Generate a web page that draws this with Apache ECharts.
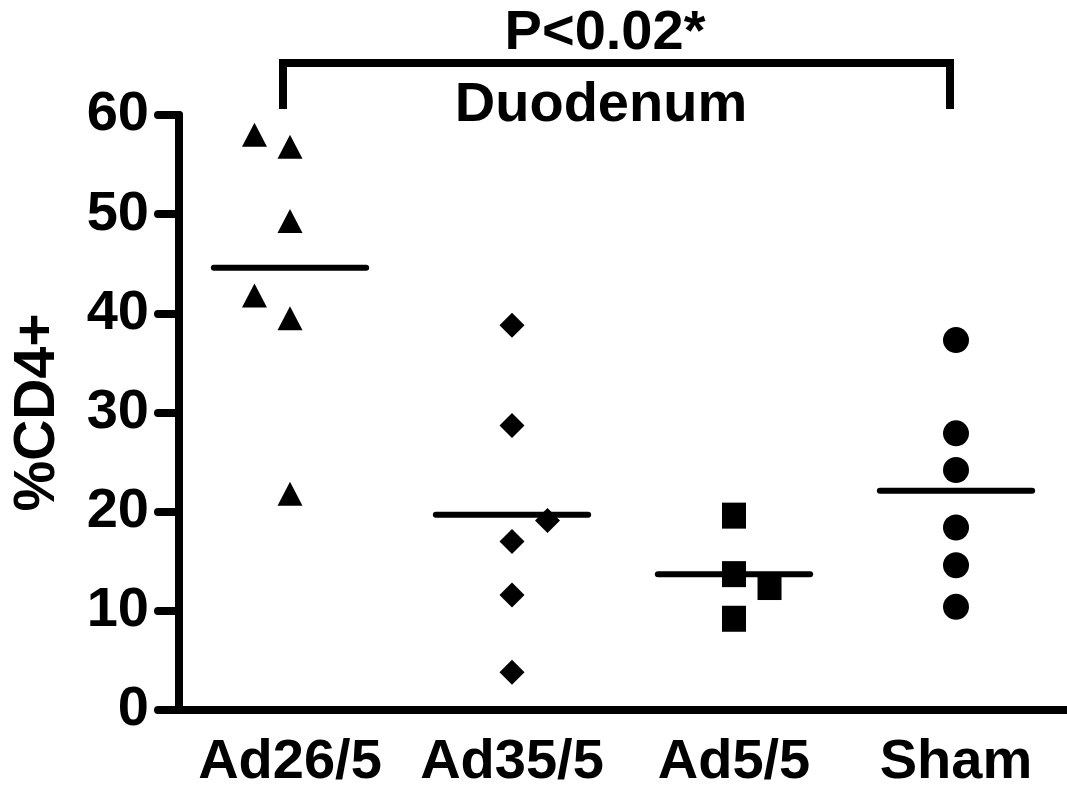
<!DOCTYPE html>
<html>
<head>
<meta charset="utf-8">
<script src="https://cdn.jsdelivr.net/npm/echarts@6/dist/echarts.min.js"></script>
<style>
html,body{margin:0;padding:0;background:#fff;}
#chart{width:1067px;height:791px;}
</style>
</head>
<body>
<div id="chart"></div>
<script>
// ---- data ----
var categories = ['Ad26/5', 'Ad35/5', 'Ad5/5', 'Sham'];
var yTicks = [0, 10, 20, 30, 40, 50, 60];
var ad26Values = [58.0, 56.8, 49.3, 41.8, 39.5, 21.8];
var ad26Offsets = [-0.16, 0, 0, -0.16, 0, 0];
var ad35Values = [38.8, 28.7, 19.1, 17.0, 11.6, 3.8];
var ad35Offsets = [0, 0, 0.16, 0, 0, 0];
var ad5Values = [19.6, 13.7, 12.4, 9.2];
var ad5Offsets = [0, 0, 0.16, 0];
var shamValues = [37.3, 27.9, 24.2, 18.4, 14.6, 10.4];
var shamOffsets = [0, 0, 0, 0, 0, 0];
var groupMeans = [44.6, 19.7, 13.7, 22.1];
var pText = 'P<0.02*';
var subTitle = 'Duodenum';
var yName = '%CD4+';

var FONT = 'Liberation Sans, Arial, sans-serif';

function pts(idx, vals, offs) {
  return vals.map(function (v, i) { return [idx + offs[i], v]; });
}

var chart = echarts.init(document.getElementById('chart'));
var markStyle = { color: '#000', opacity: 1 };
var option = {
  backgroundColor: '#ffffff',
  animation: false,
  grid: { left: 179, top: 115, height: 600, width: 899, containLabel: false },
  xAxis: [
    {
      type: 'category',
      data: categories,
      boundaryGap: true,
      axisLine: { onZero: false, lineStyle: { color: '#000', width: 8 } },
      axisTick: { alignWithLabel: true, length: 22, lineStyle: { color: '#000', width: 8, cap: 'round' } },
      axisLabel: { interval: 0, color: '#000', fontSize: 56, fontWeight: 'bold', fontFamily: FONT, margin: 25 },
      splitLine: { show: false }
    },
    {
      type: 'value',
      min: -0.5,
      max: 3.5,
      show: false
    }
  ],
  yAxis: {
    type: 'value',
    min: yTicks[0],
    max: yTicks[yTicks.length - 1],
    interval: 10,
    name: yName,
    nameLocation: 'middle',
    nameGap: 112,
    nameTextStyle: { color: '#000', fontSize: 57, fontWeight: 'bold', fontFamily: FONT },
    axisLine: { show: true, onZero: false, lineStyle: { color: '#000', width: 8 } },
    axisTick: { show: true, length: 21, lineStyle: { color: '#000', width: 8, cap: 'round' } },
    axisLabel: { color: '#000', fontSize: 56, fontWeight: 'bold', fontFamily: FONT, margin: 30 },
    splitLine: { show: false }
  },
  series: [
    {
      type: 'custom',
      xAxisIndex: 1,
      data: groupMeans.map(function (m, i) { return [i, m]; }),
      renderItem: function (params, api) {
        var i = api.value(0), m = api.value(1);
        var a = api.coord([i - 0.343, m]);
        var b = api.coord([i + 0.343, m]);
        return {
          type: 'line',
          shape: { x1: a[0], y1: a[1], x2: b[0], y2: b[1] },
          style: { stroke: '#000', lineWidth: 6, lineCap: 'round' }
        };
      },
      z: 2
    },
    { type: 'scatter', xAxisIndex: 1, symbol: 'triangle', symbolSize: [25, 24], itemStyle: markStyle, data: pts(0, ad26Values, ad26Offsets), z: 3 },
    { type: 'scatter', xAxisIndex: 1, symbol: 'diamond', symbolSize: [25, 25], itemStyle: markStyle, data: pts(1, ad35Values, ad35Offsets), z: 3 },
    { type: 'scatter', xAxisIndex: 1, symbol: 'rect', symbolSize: [24, 26], itemStyle: markStyle, data: pts(2, ad5Values, ad5Offsets), z: 3 },
    { type: 'scatter', xAxisIndex: 1, symbol: 'circle', symbolSize: 26, itemStyle: markStyle, data: pts(3, shamValues, shamOffsets), z: 3 }
  ],
  graphic: [
    {
      type: 'polyline',
      shape: { points: [[283, 109], [283, 63], [950, 63], [950, 109]] },
      style: { stroke: '#000', lineWidth: 8, fill: null, lineJoin: 'miter' }
    },
    {
      type: 'text',
      x: 605, y: 34,
      style: { text: pText, fill: '#000', font: 'bold 56px ' + FONT, textAlign: 'center', textVerticalAlign: 'middle' }
    },
    {
      type: 'text',
      x: 601, y: 106,
      style: { text: subTitle, fill: '#000', font: 'bold 56px ' + FONT, textAlign: 'center', textVerticalAlign: 'middle' }
    }
  ]
};
chart.setOption(option);
</script>
</body>
</html>
